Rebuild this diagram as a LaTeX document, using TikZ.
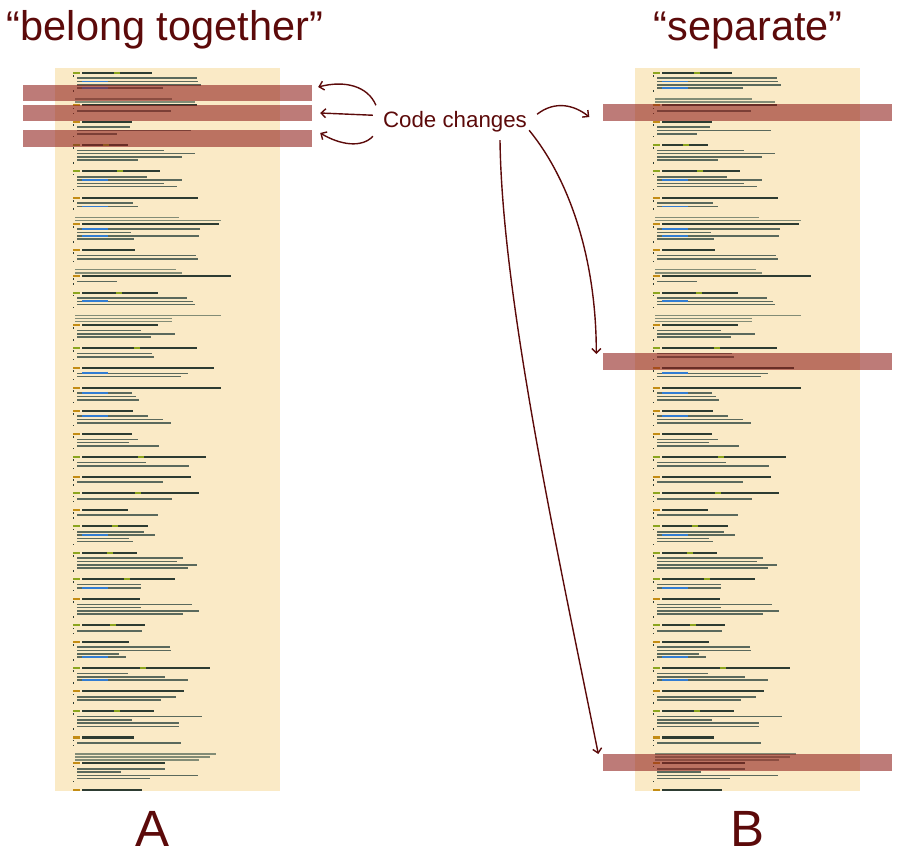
\documentclass[tikz,border=0pt]{standalone}
\usepackage{fontspec}
\setmainfont{Liberation Sans}
\usetikzlibrary{arrows.meta,calc}
\definecolor{maroon}{RGB}{92,10,10}
\definecolor{paper}{RGB}{250,234,198}
\definecolor{barc}{RGB}{145,35,30}
\definecolor{hdc}{RGB}{45,60,50}
\definecolor{bdc}{RGB}{90,105,92}
\definecolor{cmc}{RGB}{130,140,118}
\definecolor{kwa}{RGB}{195,140,20}
\definecolor{kwb}{RGB}{140,165,30}
\definecolor{kwc}{RGB}{50,125,210}
\tikzset{
  titletext/.style={text=maroon, font=\fontsize{41.5}{48}\selectfont, anchor=base, inner sep=0},
  letter/.style={text=maroon, font=\fontsize{51}{58}\selectfont, anchor=base, inner sep=0},
  labeltext/.style={text=maroon, font=\fontsize{22.3}{26}\selectfont, anchor=base, inner sep=0},
  panel/.style={fill=paper, draw=none, minimum width=225pt, minimum height=723pt, inner sep=0},
  hbar/.style={fill=barc, fill opacity=0.6, draw=none, minimum width=289pt, minimum height=16.5pt, inner sep=0},
  chg/.style={draw=maroon, line width=1.4pt, -{Straight Barb[length=4.5pt,width=9pt]}},
}
\newcommand\codetexture[1]{%
  \begin{scope}[xshift=#1]
  \clip (55,68) rectangle (280,790);
  \pgfmathsetseed{11}%
  \xdef\cy{72.7}%
  \foreach \b in {1,...,48}{%
    \pgfmathrandominteger{\nb}{1}{4}%
    \pgfmathrandominteger{\hl}{45}{150}%
    \pgfmathrandominteger{\kd}{0}{5}%
    \pgfmathrandominteger{\nc}{0}{3}%
    \pgfmathsetmacro\ya{\cy}%
    \ifnum\kd=0
      \foreach \c in {1,...,\nc}{%
        \pgfmathrandominteger{\cl}{90}{185}%
        \fill[cmc] (75,\ya+\c*3.1-4) rectangle ({75+\cl},\ya+\c*3.1-2.6);
      }%
      \pgfmathsetmacro\ya{\cy+\nc*3.1}%
    \fi
    \ifnum\kd<3
      \fill[kwa] (73,\ya-1.1) rectangle (80,\ya+1.1);
    \else
      \fill[kwb] (73,\ya-1.1) rectangle (80,\ya+1.1);
    \fi
    \fill[hdc] (82,\ya-1.1) rectangle ({82+\hl},\ya+1.1);
    \ifnum\kd>2
      \fill[kwb] ({82+\hl*0.45},\ya-1.1) rectangle ({88+\hl*0.45},\ya+1.1);
    \fi
    \fill[hdc] (73,\ya+2.2) rectangle (74.4,\ya+3.8);
    \foreach \k in {1,...,\nb}{%
      \pgfmathrandominteger{\bl}{35}{125}%
      \pgfmathrandominteger{\bc}{0}{6}%
      \fill[bdc] (77,\ya+\k*3.3+1.3) rectangle ({77+\bl},\ya+\k*3.3+2.9);
      \ifnum\bc=0
        \fill[kwc] (82,\ya+\k*3.3+1.2) rectangle (108,\ya+\k*3.3+3);
      \fi
    }%
    \fill[hdc] (73,\ya+\nb*3.3+4) rectangle (74.4,\ya+\nb*3.3+5.6);
    \pgfmathsetmacro\ncy{\ya+\nb*3.3+13.2}%
    \xdef\cy{\ncy}%
  }%
  \end{scope}%
}
\begin{document}
\begin{tikzpicture}[x=1pt,y=-1pt]
\useasboundingbox (0,0) rectangle (900,857);
% titles
\node[titletext] (tA) at (165,40) {“belong together”};
\node[titletext] (tB) at (748,40) {“separate”};
% panels
\node[panel] (pA) at (167.5,429.5) {};
\node[panel] (pB) at (747.5,429.5) {};
\codetexture{0}
\codetexture{580}
% highlight bars
\node[hbar] (bA1) at (167.5,93) {};
\node[hbar] (bA2) at (167.5,113) {};
\node[hbar] (bA3) at (167.5,138.5) {};
\node[hbar] (bB1) at (747,112.5) {};
\node[hbar] (bB2) at (747,361.5) {};
\node[hbar] (bB3) at (747,762.5) {};
% label
\node[labeltext] (cc) at (455,127) {Code changes};
% arrows (offsets in picture units, y grows downwards)
\draw[chg] ($(cc.west)+(-7,-16)$) .. controls ($(cc.west)+(-15,-35)$) and ($(bA1.east)+(33,-13)$) .. ($(bA1.east)+(6,-6)$);
\draw[chg] ($(cc.west)+(-10,-6)$) -- ($(bA2.east)+(8,0)$);
\draw[chg] ($(cc.west)+(-10,15)$) .. controls ($(cc.west)+(-21,27)$) and ($(bA3.east)+(28,6.5)$) .. ($(bA3.east)+(8,-5.5)$);
\draw[chg] ($(cc.east)+(10,-7)$) .. controls ($(cc.east)+(28,-21)$) and ($(bB1.west)+(-28,-7.5)$) .. ($(bB1.west)+(-13,4.5)$);
\draw[chg] ($(cc.east)+(2,9)$) .. controls ($(cc.east)+(43,59)$) and ($(bB2.west)+(-6,-101.5)$) .. ($(bB2.west)+(-6,-7.5)$);
\draw[chg] ($(cc.south)+(45,8.3)$) .. controls ($(cc.south)+(47,168)$) and ($(bB3.west)+(-43,-202.5)$) .. ($(bB3.west)+(-4,-8.5)$);
% letters
\node[letter] (lA) at (153,846) {A};
\node[letter] (lB) at (748,846) {B};
\end{tikzpicture}
\end{document}
